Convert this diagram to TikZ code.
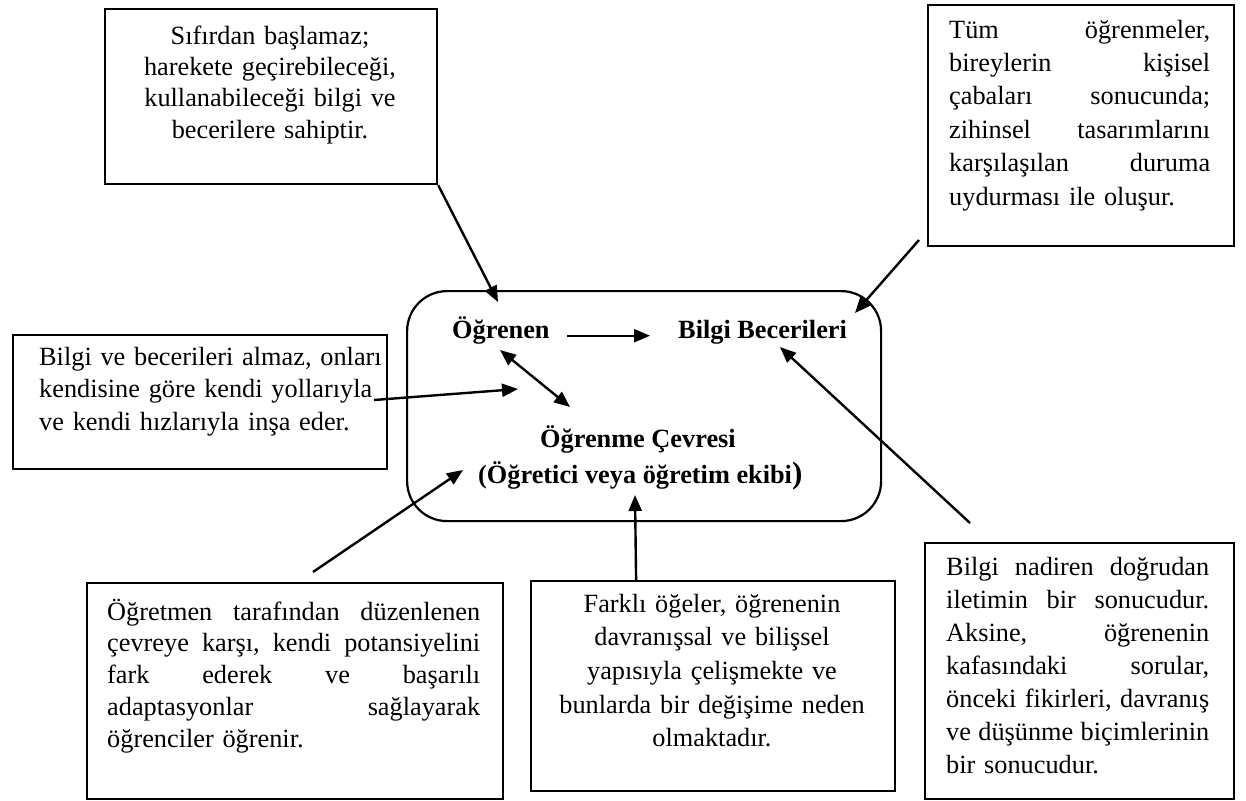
\documentclass[tikz,border=0pt]{standalone}
\usepackage{fontspec}
\setmainfont{Liberation Serif}
\usetikzlibrary{arrows.meta}
% justified line of a given width: words are spread by \hfill
\newcommand\jline[2]{\makebox[#1][s]{#2}\\}

\begin{document}
\begin{tikzpicture}[x=1pt,y=-1pt,
  frame/.style={draw,line width=2.2pt,inner sep=0pt,anchor=north west},
  arr/.style={line width=2.4pt,-{Triangle[length=16pt,width=13pt]}},
  darr/.style={line width=2.4pt,{Triangle[length=16pt,width=13pt]}-{Triangle[length=16pt,width=13pt]}},
  para/.style={inner sep=0pt,font=\fontsize{26.3}{33}\selectfont},
  head/.style={inner sep=0pt,anchor=base west,font=\fontsize{26.3}{33}\selectfont\bfseries}]
\useasboundingbox (0,0) rectangle (1246,800);

% central rounded frame with its labels
\node[frame,rounded corners=40pt,minimum width=474pt,minimum height=230pt] (env) at (406,290) {};
\node[head] (ogr) at (452,338) {Öğrenen};
\node[head] (bil) at (678,338) {Bilgi Becerileri};
\node[head] (cev) at (540,447) {Öğrenme Çevresi};
\node[head] (ekip) at (478,483) {(Öğretici veya öğretim ekibi{\fontsize{31}{33}\selectfont )}};

% surrounding boxes
\node[frame,minimum width=332pt,minimum height=175pt] (tl) at (104,8) {};
\node[para,anchor=base,text width=320pt,align=center,font=\fontsize{26.3}{31}\selectfont] (tlt) at (270,45)
  {Sıfırdan başlamaz;\\harekete geçirebileceği,\\kullanabileceği bilgi ve\\becerilere sahiptir.};

\node[frame,minimum width=306pt,minimum height=241pt] (tr) at (927,4) {};
\node[para,anchor=base west,text width=261pt,align=left,font=\fontsize{26.3}{33.4}\selectfont] (trt) at (949,38)
  {\jline{261pt}{Tüm\hfill öğrenmeler,}%
   \jline{261pt}{bireylerin\hfill kişisel}%
   \jline{261pt}{çabaları\hfill sonucunda;}%
   \jline{261pt}{zihinsel\hfill tasarımlarını}%
   \jline{261pt}{karşılaşılan\hfill duruma}%
   uydurması ile oluşur.};

\node[frame,minimum width=374pt,minimum height=134pt] (lm) at (12,334) {};
\node[para,anchor=base west,text width=345pt,align=left,font=\fontsize{26.3}{32.5}\selectfont] (lmt) at (39,365)
  {Bilgi ve becerileri almaz, onları\\kendisine göre kendi yollarıyla\\ve kendi hızlarıyla inşa eder.};

\node[frame,minimum width=416pt,minimum height=216pt] (bl) at (86,582) {};
\node[para,anchor=base west,text width=373pt,align=left,font=\fontsize{26.3}{31.8}\selectfont] (blt) at (107,620)
  {\jline{373pt}{Öğretmen\hfill tarafından\hfill düzenlenen}%
   \jline{373pt}{çevreye\hfill karşı,\hfill kendi\hfill potansiyelini}%
   \jline{373pt}{fark\hfill ederek\hfill ve\hfill başarılı}%
   \jline{373pt}{adaptasyonlar\hfill sağlayarak}%
   öğrenciler öğrenir.};

\node[frame,minimum width=364pt,minimum height=210pt] (bc) at (530,580) {};
\node[para,anchor=base,text width=340pt,align=center,font=\fontsize{26.3}{33.7}\selectfont] (bct) at (712,612)
  {Farklı öğeler, öğrenenin\\davranışsal ve bilişsel\\yapısıyla çelişmekte ve\\bunlarda bir değişime neden\\olmaktadır.};

\node[frame,minimum width=309pt,minimum height=256pt] (br) at (924,542) {};
\node[para,anchor=base west,text width=263pt,align=left] (brt) at (946,575)
  {\jline{263pt}{Bilgi\hfill nadiren\hfill doğrudan}%
   \jline{263pt}{iletimin\hfill bir\hfill sonucudur.}%
   \jline{263pt}{Aksine,\hfill öğrenenin}%
   \jline{263pt}{kafasındaki\hfill sorular,}%
   \jline{263pt}{önceki\hfill fikirleri,\hfill davranış}%
   \jline{263pt}{ve\hfill düşünme\hfill biçimlerinin}%
   bir sonucudur.};

% connector end points
\coordinate (tipTL) at (498,302);
\coordinate (srcTR) at (919,240);
\coordinate (tipTR) at (855,313);
\coordinate (srcLM) at (374,400);
\coordinate (tipLM) at (518,389);
\coordinate (srcBL) at (313,572);
\coordinate (tipBL) at (463,470);
\coordinate (tipBC) at (635,495);
\coordinate (srcBR) at (970,523);
\coordinate (tipBR) at (780,347);
\coordinate (ogrLow) at (500,350);
\coordinate (cevUp) at (570,407);

% connectors
\draw[arr] ([xshift=17pt]ogr.mid east) -- ([xshift=-28pt]bil.mid west);
\draw[darr] (ogrLow) -- (cevUp);
\draw[arr] (tl.south east) -- (tipTL);
\draw[arr] (srcTR) -- (tipTR);
\draw[arr] (srcLM) -- (tipLM);
\draw[arr] (srcBL) -- (tipBL);
\draw[arr] ([xshift=-77pt]bc.north) -- (tipBC);
\draw[arr] (srcBR) -- (tipBR);
\end{tikzpicture}
\end{document}
